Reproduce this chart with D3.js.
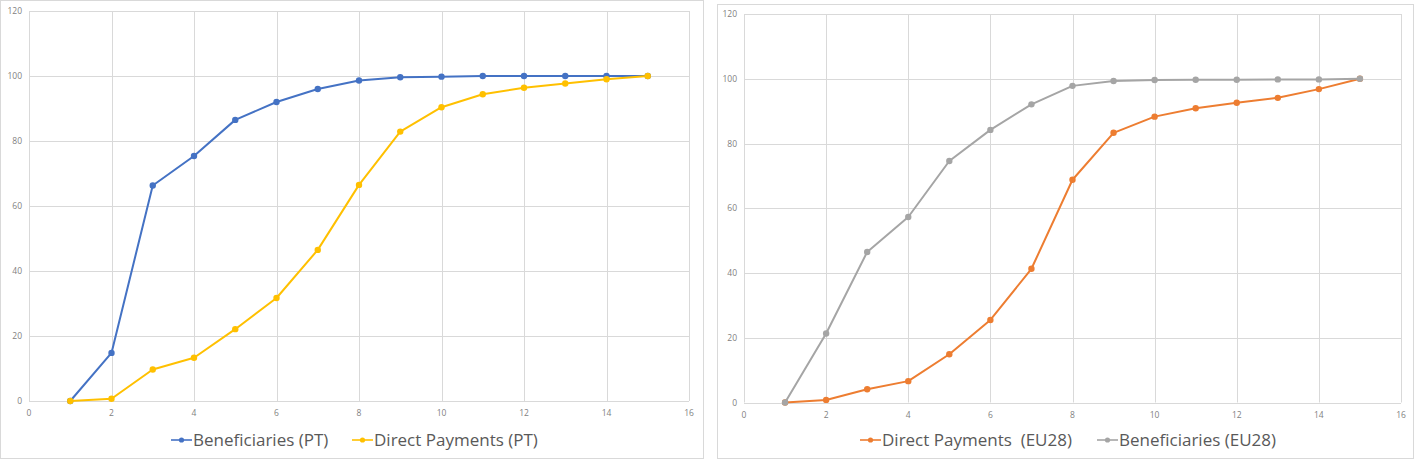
<!DOCTYPE html>
<html><head><meta charset="utf-8">
<script src="https://cdn.jsdelivr.net/npm/d3@7"></script>
<style>body{margin:0;background:#fff;}svg{display:block;}</style>
</head><body>
<svg id="chart" width="1416" height="461"></svg>
<script>
const xValues = [1,2,3,4,5,6,7,8,9,10,11,12,13,14,15];
const beneficiariesPT = [0,14.8,66.3,75.4,86.5,92,96,98.6,99.6,99.8,100,100,100,100,100];
const directPaymentsPT = [0,0.7,9.7,13.3,22.1,31.7,46.5,66.5,82.9,90.4,94.4,96.4,97.7,99,100];
const directPaymentsEU = [0,0.8,4.1,6.6,14.9,25.5,41.3,68.8,83.3,88.3,90.9,92.6,94.1,96.8,100];
const beneficiariesEU = [0,21.3,46.5,57.3,74.6,84.2,92.1,97.8,99.3,99.6,99.7,99.7,99.8,99.8,100];
const xTicks = [0,2,4,6,8,10,12,14,16];
const yTicks = [0,20,40,60,80,100,120];

const svg = d3.select("#chart");

function panel(cfg){
  const g = svg.append("g");
  g.append("rect").attr("x",cfg.box[0]+0.5).attr("y",cfg.box[1]+0.5)
    .attr("width",cfg.box[2]).attr("height",cfg.box[3])
    .attr("fill","#fff").attr("stroke","#d9d9d9");
  const x = d3.scaleLinear().domain([0,16]).range([cfg.plot[0],cfg.plot[1]]);
  const y = d3.scaleLinear().domain([0,120]).range([cfg.plot[3],cfg.plot[2]]);
  g.selectAll(".gx").data(xTicks).join("line")
    .attr("x1",d=>Math.round(x(d))+0.5).attr("x2",d=>Math.round(x(d))+0.5)
    .attr("y1",y(0)).attr("y2",y(120)).attr("stroke","#d9d9d9").attr("stroke-width",1);
  g.selectAll(".gy").data(yTicks).join("line")
    .attr("y1",d=>Math.round(y(d))+0.5).attr("y2",d=>Math.round(y(d))+0.5)
    .attr("x1",x(0)).attr("x2",x(16)).attr("stroke","#d9d9d9").attr("stroke-width",1);
  g.selectAll(".tx").data(xTicks).join("text")
    .attr("x",d=>x(d)).attr("y",y(0)+15).attr("text-anchor","middle")
    .attr("font-family","Open Sans, sans-serif").attr("font-size",8.5).attr("fill","#7f7f7f")
    .text(d=>d);
  g.selectAll(".ty").data(yTicks).join("text")
    .attr("x",x(0)-7).attr("y",d=>y(d)+3).attr("text-anchor","end")
    .attr("font-family","Open Sans, sans-serif").attr("font-size",8.5).attr("fill","#7f7f7f")
    .text(d=>d);
  const line = d3.line().x((d,i)=>x(xValues[i])).y(d=>y(d));
  cfg.series.forEach(s=>{
    g.append("path").datum(s.values).attr("d",line).attr("fill","none")
      .attr("stroke",s.color).attr("stroke-width",2).attr("stroke-linejoin","round");
    g.selectAll(null).data(s.values).join("circle")
      .attr("cx",(d,i)=>x(xValues[i])).attr("cy",d=>y(d)).attr("r",3.2).attr("fill",s.color);
  });
  cfg.legend.forEach(l=>{
    const s = cfg.series[l.idx];
    g.append("line").attr("x1",l.x).attr("x2",l.x+21).attr("y1",cfg.legendY).attr("y2",cfg.legendY)
      .attr("stroke",s.color).attr("stroke-width",1.6);
    g.append("circle").attr("cx",l.x+10.5).attr("cy",cfg.legendY).attr("r",2.6).attr("fill",s.color);
    g.append("text").attr("x",l.x+22).attr("y",cfg.legendY+6)
      .attr("font-family","Open Sans, sans-serif").attr("font-size",17).attr("fill","#595959")
      .attr("xml:space","preserve").style("white-space","pre")
      .text(s.name);
  });
}

panel({
  box:[0,0,703,458], plot:[29,689,11,401], legendY:440,
  series:[
    {name:"Beneficiaries (PT)", values:beneficiariesPT, color:"#4472C4"},
    {name:"Direct Payments (PT)", values:directPaymentsPT, color:"#FFC000"}
  ],
  legend:[{idx:0,x:171},{idx:1,x:352}]
});
panel({
  box:[717,4,696,454], plot:[744,1401,14,402.5], legendY:440,
  series:[
    {name:"Direct Payments  (EU28)", values:directPaymentsEU, color:"#ED7D31"},
    {name:"Beneficiaries (EU28)", values:beneficiariesEU, color:"#A5A5A5"}
  ],
  legend:[{idx:0,x:860},{idx:1,x:1097}]
});
</script>
</body></html>
